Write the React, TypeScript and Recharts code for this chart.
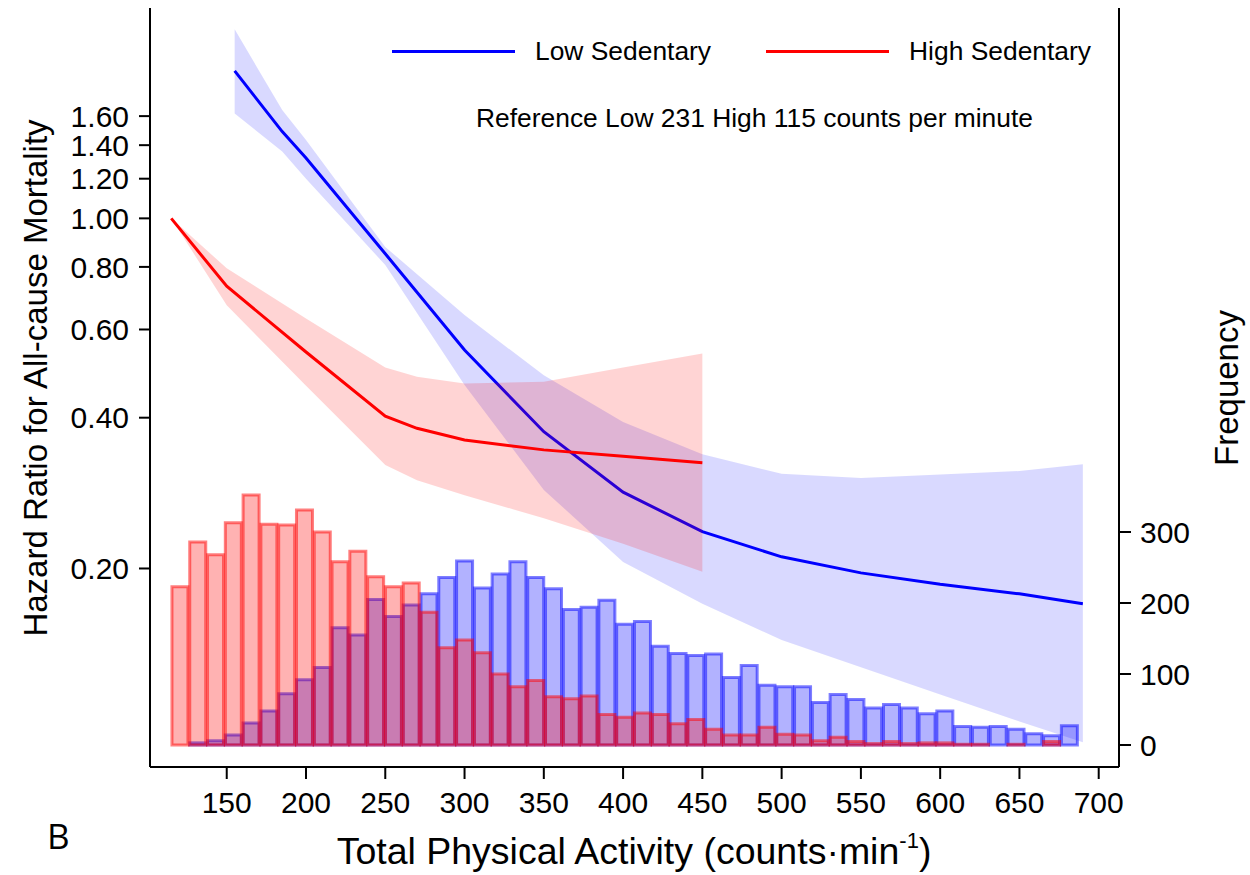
import React from 'react';
import { ComposedChart, Bar, Line, Area, XAxis, YAxis, Legend } from 'recharts';

// histogram bins: 51 bins starting at 115 cpm
const BIN_START = 115;
const BIN_WIDTH = 11.22;

// participants per bin
const lowCounts = [
  0, 3, 6, 14, 31, 48, 72, 92, 109, 165, 155, 205, 181, 197, 213, 236, 259,
  221, 241, 258, 236, 220, 191, 194, 204, 170, 174, 139, 129, 126, 128, 95,
  112, 84, 82, 82, 60, 71, 64, 52, 57, 52, 44, 48, 26, 25, 26, 22, 16, 13, 27,
];
const highCounts = [
  223, 286, 268, 313, 352, 311, 310, 331, 300, 258, 273, 237, 223, 228, 187,
  137, 148, 130, 100, 82, 91, 68, 65, 69, 43, 39, 45, 43, 30, 36, 22, 14, 14,
  25, 15, 14, 6, 11, 5, 2, 5, 2, 3, 3, 1, 1, 0, 1, 0, 5, 0,
];

// hazard ratio curves with 95% CI
const lowX = [155, 185, 200, 250, 300, 350, 400, 450, 500, 550, 600, 650, 690];
const lowHR = [1.97, 1.49, 1.32, 0.85, 0.546, 0.375, 0.284, 0.237, 0.211, 0.196, 0.186, 0.178, 0.17];
const lowUpper = [2.385, 1.645, 1.434, 0.877, 0.641, 0.486, 0.392, 0.338, 0.309, 0.303, 0.308, 0.313, 0.323];
const lowLower = [1.62, 1.36, 1.2, 0.807, 0.465, 0.287, 0.206, 0.17, 0.144, 0.127, 0.112, 0.099, 0.09];

const highX = [115, 150, 200, 250, 270, 300, 350, 400, 450];
const highHR = [1.0, 0.732, 0.541, 0.403, 0.381, 0.361, 0.345, 0.335, 0.325];
const highUpper = [1.0, 0.795, 0.631, 0.504, 0.483, 0.468, 0.472, 0.504, 0.537];
const highLower = [1.0, 0.671, 0.463, 0.322, 0.3, 0.28, 0.252, 0.224, 0.197];

const xTicks = [150, 200, 250, 300, 350, 400, 450, 500, 550, 600, 650, 700];
const hrTicks = [0.2, 0.4, 0.6, 0.8, 1.0, 1.2, 1.4, 1.6];
const freqTicks = [0, 100, 200, 300];

const series = [
  { name: 'Low Sedentary', color: '#0000ff' },
  { name: 'High Sedentary', color: '#ff0000' },
];

const X_DOMAIN = [101.6, 712.8];
const HR_DOMAIN = [0.0803, 2.63];
const FREQ_DOMAIN = [-31, 1038];

const FONT = '"Liberation Sans", Arial, sans-serif';

const bins = lowCounts.map((c, i) => ({
  mid: BIN_START + (i + 0.5) * BIN_WIDTH,
  low: c,
  high: highCounts[i],
}));

const lowCurve = lowX.map((x, i) => ({ x, hr: lowHR[i], ci: [lowLower[i], lowUpper[i]] }));
const highCurve = highX.map((x, i) => ({ x, hr: highHR[i], ci: [highLower[i], highUpper[i]] }));

const tickStyle = { fill: '#000', fontSize: 30, fontFamily: FONT };
const axisStroke = { stroke: '#000', strokeWidth: 2 };

const renderLegend = () => (
  <div style={{ position: 'relative', width: 1250, height: 150, fontFamily: FONT, color: '#000' }}>
    <div style={{ position: 'absolute', left: 392, top: 35, height: 32, display: 'flex', alignItems: 'center' }}>
      {series.map((s, i) => (
        <div key={s.name} style={{ display: 'flex', alignItems: 'center', marginLeft: i === 0 ? 0 : 55 }}>
          <div style={{ width: 123, height: 3, background: s.color }} />
          <span style={{ marginLeft: 20, fontSize: 26.4, whiteSpace: 'nowrap' }}>{s.name}</span>
        </div>
      ))}
    </div>
    <div style={{ position: 'absolute', left: 476, top: 102, fontSize: 26.4, lineHeight: '32px', whiteSpace: 'nowrap' }}>
      Reference Low 231 High 115 counts per minute
    </div>
  </div>
);

const XTitle = () => (
  <g>
    <text x={634} y={864} textAnchor="middle" fontSize={37.5} fontFamily={FONT} fill="#000">
      Total Physical Activity (counts·min
      <tspan dy={-16} fontSize={22}>-1</tspan>
      <tspan dy={16}>)</tspan>
    </text>
    <text x={47} y={849} fontSize={35} fontFamily='"Open Sans", sans-serif' fill="#000">B</text>
  </g>
);

const LeftTitle = () => (
  <text
    x={35}
    y={378}
    transform="rotate(-90, 35, 378)"
    textAnchor="middle"
    dominantBaseline="central"
    fontSize={33}
    fontFamily={FONT}
    fill="#000"
  >
    Hazard Ratio for All-cause Mortality
  </text>
);

const RightTitle = () => (
  <text
    x={1226}
    y={388}
    transform="rotate(-90, 1226, 388)"
    textAnchor="middle"
    dominantBaseline="central"
    fontSize={33}
    fontFamily={FONT}
    fill="#000"
  >
    Frequency
  </text>
);

export default function App() {
  return (
    <div style={{ position: 'absolute', left: 0, top: 0, width: 1250, height: 875, background: '#fff' }}>
      <ComposedChart
        width={1250}
        height={875}
        data={bins}
        margin={{ top: 8, right: 0, bottom: 0, left: 0 }}
        barCategoryGap="4%"
      >
        <XAxis
          xAxisId="pa"
          type="number"
          dataKey="x"
          domain={X_DOMAIN}
          allowDataOverflow
          ticks={xTicks}
          interval={0}
          height={108}
          tickSize={12}
          tickMargin={13}
          tick={tickStyle}
          axisLine={axisStroke}
          tickLine={axisStroke}
          label={<XTitle />}
        />
        {/* hidden axes so the two histograms overlap instead of sitting side by side */}
        <XAxis xAxisId="binLow" orientation="top" type="number" dataKey="mid" domain={X_DOMAIN} allowDataOverflow hide />
        <XAxis xAxisId="binHigh" orientation="top" type="number" dataKey="mid" domain={X_DOMAIN} allowDataOverflow hide />
        <YAxis
          yAxisId="hr"
          scale="log"
          domain={HR_DOMAIN}
          allowDataOverflow
          ticks={hrTicks}
          interval={0}
          width={150}
          tickSize={11}
          tickMargin={10}
          tick={tickStyle}
          tickFormatter={(v) => Number(v).toFixed(2)}
          axisLine={axisStroke}
          tickLine={axisStroke}
          label={<LeftTitle />}
        />
        <YAxis
          yAxisId="freq"
          orientation="right"
          domain={FREQ_DOMAIN}
          allowDataOverflow
          ticks={freqTicks}
          interval={0}
          width={131}
          tickSize={12}
          tickMargin={9}
          tick={tickStyle}
          axisLine={axisStroke}
          tickLine={axisStroke}
          label={<RightTitle />}
        />
        <YAxis yAxisId="freq2" orientation="right" domain={FREQ_DOMAIN} allowDataOverflow hide />

        <Legend
          layout="horizontal"
          verticalAlign="middle"
          align="center"
          wrapperStyle={{ top: 0, left: 0, width: 1250, height: 150 }}
          content={renderLegend}
        />

        <Bar
          xAxisId="binLow"
          yAxisId="freq"
          dataKey="low"
          fill="#0000ff"
          fillOpacity={0.3}
          stroke="#0000ff"
          strokeOpacity={0.5}
          strokeWidth={3}
          legendType="none"
          isAnimationActive={false}
          zIndex={101}
        />
        <Bar
          xAxisId="binHigh"
          yAxisId="freq2"
          dataKey="high"
          fill="#ff0000"
          fillOpacity={0.3}
          stroke="#ff0000"
          strokeOpacity={0.5}
          strokeWidth={3}
          legendType="none"
          isAnimationActive={false}
          zIndex={102}
        />
        <Area
          xAxisId="pa"
          yAxisId="hr"
          data={lowCurve}
          dataKey="ci"
          type="linear"
          stroke="none"
          fill="#0000ff"
          fillOpacity={0.15}
          legendType="none"
          isAnimationActive={false}
          zIndex={103}
        />
        <Line
          xAxisId="pa"
          yAxisId="hr"
          data={lowCurve}
          dataKey="hr"
          name={series[0].name}
          type="linear"
          stroke={series[0].color}
          strokeWidth={3}
          dot={false}
          activeDot={false}
          isAnimationActive={false}
          zIndex={104}
        />
        <Area
          xAxisId="pa"
          yAxisId="hr"
          data={highCurve}
          dataKey="ci"
          type="linear"
          stroke="none"
          fill="#ff0000"
          fillOpacity={0.17}
          legendType="none"
          isAnimationActive={false}
          zIndex={105}
        />
        <Line
          xAxisId="pa"
          yAxisId="hr"
          data={highCurve}
          dataKey="hr"
          name={series[1].name}
          type="linear"
          stroke={series[1].color}
          strokeWidth={3}
          dot={false}
          activeDot={false}
          isAnimationActive={false}
          zIndex={106}
        />
      </ComposedChart>
    </div>
  );
}
